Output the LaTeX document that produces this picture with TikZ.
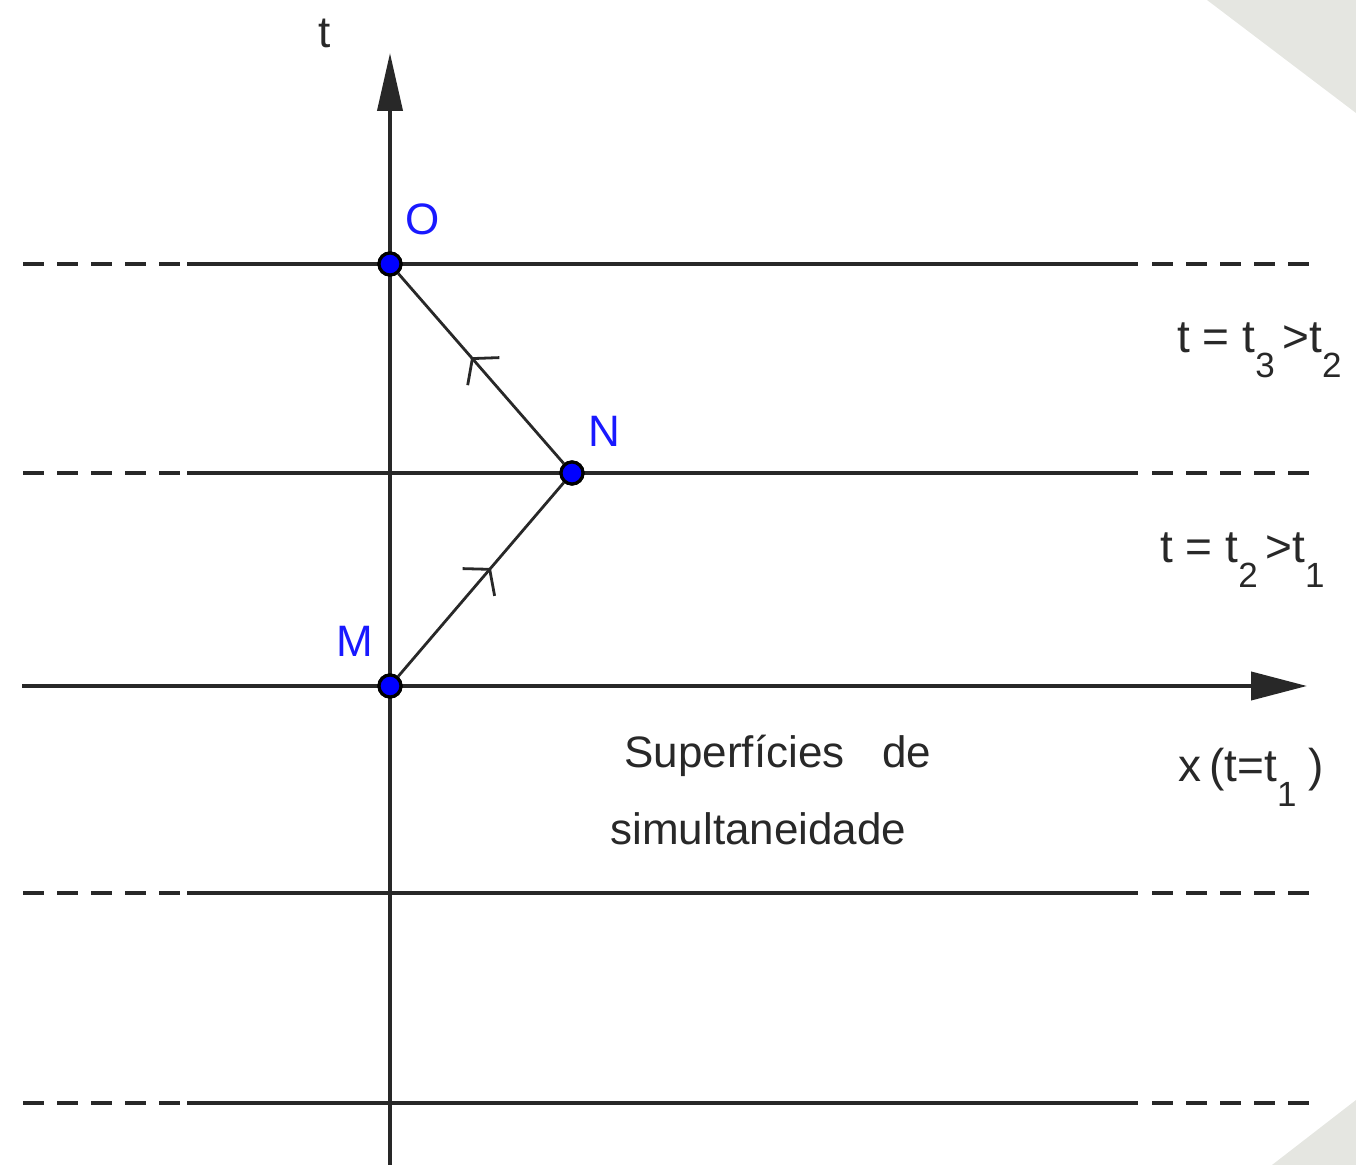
\documentclass[tikz,border=0pt]{standalone}
\usepackage{fontspec}
\setmainfont{Liberation Sans}
\usetikzlibrary{arrows.meta,decorations.markings}
\definecolor{paper}{RGB}{229,230,225}
\definecolor{ink}{RGB}{40,40,40}
\definecolor{ptblue}{RGB}{0,0,255}
\definecolor{lblblue}{RGB}{25,25,255}
\newcommand{\lsub}[1]{\raisebox{-12.5pt}{\fontsize{17.5}{17.5}\selectfont #1}}
\tikzset{
  lbl/.style={font=\fontsize{22}{26}\selectfont, inner sep=0pt, anchor=base west, text=ink},
  rlbl/.style={font=\fontsize{23}{27}\selectfont, inner sep=0pt, anchor=base west, text=ink},
  ptlbl/.style={font=\fontsize{22}{26}\selectfont, inner sep=0pt, anchor=base west, text=lblblue},
  pt/.style={circle, fill=ptblue, draw=black, line width=1.6pt, minimum size=22*0.5pt, inner sep=0pt},
  hline/.style={draw=ink, line width=1.9pt},
  dline/.style={draw=ink, line width=1.9pt, dash pattern=on 10.5pt off 6.5pt},
  axis/.style={draw=ink, line width=2pt},
  diag/.style={draw=ink, line width=1.4pt, postaction=decorate,
    decoration={markings, mark=at position 0.56 with {\arrow{Straight Barb[length=8.5pt,width=21pt,line width=1.4pt]}}}},
}
\begin{document}
\begin{tikzpicture}[x=0.5pt,y=-0.5pt]
\useasboundingbox (0,0) rectangle (1356,1165);
% paper corners
\fill[paper] (1207,0) -- (1356,0) -- (1356,113) -- cycle;
\fill[paper] (1356,1100) -- (1356,1165) -- (1272,1165) -- cycle;
% horizontal simultaneity lines
\foreach \yy in {264,473,893,1103}{
  \draw[dline] (23,\yy) -- (180,\yy);
  \draw[hline] (187,\yy) -- (1138,\yy);
  \draw[dline] (1152,\yy) -- (1309,\yy);
}
% axes
\coordinate (xs) at (22,686);
\coordinate (xe) at (1307,686);
\coordinate (ts) at (390,1165);
\coordinate (te) at (390,53);
\draw[axis, -{Triangle[length=28pt,width=14pt]}] (xs) -- (xe);
\draw[axis, -{Triangle[length=29pt,width=12.5pt]}] (ts) -- (te);
% points
\node[pt] (O) at (390,264) {};
\node[pt] (N) at (572,473) {};
\node[pt] (M) at (390,686) {};
\draw[diag] (M) -- (N);
\draw[diag] (N) -- (O);
\node[pt] at (O) {};
\node[pt] at (N) {};
\node[pt] at (M) {};
% labels
\node[ptlbl] (lO) at (405,235) {O};
\node[ptlbl] (lN) at (588,447) {N};
\node[ptlbl] (lM) at (336,657) {M};
\node[lbl] (lt) at (318,48) {t};
\node[rlbl] (l3) at (1177,353) {t = t\lsub{3}\,>t\lsub{2}};
\node[rlbl] (l2) at (1160,563) {t = t\lsub{2}\,>t\lsub{1}};
\node[rlbl] (lx) at (1178,782) {x\hspace{4pt}(t=t\lsub{1}\hspace{6pt})};
\node[lbl] (s1) at (624,768) {Superfícies\hspace{19pt}de};
\node[lbl] (s2) at (610,845) {simultaneidade};
\end{tikzpicture}
\end{document}
